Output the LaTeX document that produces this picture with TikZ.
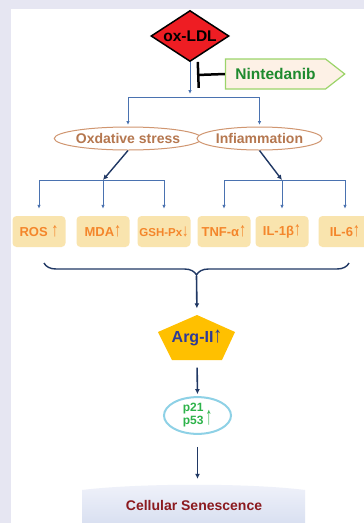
\documentclass[tikz,border=0pt]{standalone}
\usepackage{fontspec}
\setmainfont{Liberation Sans}
\usepackage{tikz}
\usetikzlibrary{arrows.meta,positioning,shapes.geometric,shapes.symbols,decorations.pathreplacing,calc}
\definecolor{PaleLavender}{HTML}{E6E6F2}
\definecolor{LdlRed}{HTML}{EE1D23}
\definecolor{NavyLine}{HTML}{203864}
\definecolor{SteelLine}{HTML}{4A72B0}
\definecolor{TanEdge}{HTML}{D09670}
\definecolor{TanText}{HTML}{B5774F}
\definecolor{SoftWheat}{HTML}{F9E4AE}
\definecolor{MarkerOrange}{HTML}{F4862B}
\definecolor{LeafGreen}{HTML}{1E8A2E}
\definecolor{LimeEdge}{HTML}{9CD46A}
\definecolor{SoftCream}{HTML}{FDF1E6}
\definecolor{ArgGold}{HTML}{FFC000}
\definecolor{ArgBlue}{HTML}{2E3A97}
\definecolor{SkyEdge}{HTML}{8ED1E6}
\definecolor{PGreen}{HTML}{2DB34A}
\definecolor{DeepMaroon}{HTML}{8B1A1F}
\definecolor{MistTop}{HTML}{F0F2FA}
\definecolor{MistBottom}{HTML}{D9E0F1}
\newcommand{\upmark}[1][1.5]{\scalebox{1.1}[#1]{\mdseries ↑}}
\newcommand{\downmark}[1][1.5]{\scalebox{1.1}[#1]{\mdseries ↓}}

\begin{document}
\begin{tikzpicture}[x=1pt, y=-1pt, every node/.style={font=\bfseries, align=center},
  readout/.style={fill=SoftWheat, rounded corners=4pt, minimum width=53pt, minimum height=31pt, inner sep=1pt, text=MarkerOrange, font=\bfseries\fontsize{13}{13}\selectfont},
  process/.style={ellipse, draw=TanEdge, line width=1pt, fill=white, minimum width=125pt, minimum height=23pt, inner sep=0pt, text=TanText, font=\bfseries\fontsize{14}{14}\selectfont},
  bus/.style={SteelLine, line width=0.8pt},
  tap/.style={SteelLine, line width=0.8pt, -{Latex[length=4pt,width=3.5pt]}},
  link/.style={NavyLine, line width=1.6pt, -{Latex[length=5pt,width=5pt]}}]
  \useasboundingbox (0,0) rectangle (364,523);
  \fill[PaleLavender] (0,0) rectangle (364,523);
  \fill[white] (11,9) rectangle (364,523);

  \node[diamond, aspect=1.54, draw=black, line width=1.5pt, fill=LdlRed, minimum width=78pt, minimum height=51pt, inner sep=0pt, font=\bfseries\fontsize{15.5}{15.5}\selectfont] (ldl) at (190,36) {ox-LDL};
  \node[signal, signal to=east, signal pointer angle=76, draw=LimeEdge, line width=1.2pt, fill=SoftCream, minimum height=30pt, inner xsep=10pt, text=LeafGreen, font=\bfseries\fontsize{15.5}{15.5}\selectfont] (nin) at (275.5,74) {Nintedanib};
  \coordinate (blk) at (197,75);
  \draw[line width=2.5pt, -{Bar[width=26pt]}] (nin.west) -- (blk);

  \coordinate (sp) at (190,97);
  \node[process] (ox) at (128,138.5) {Oxdative stress};
  \node[process] (inf) at (259.5,138.5) {Infiammation};
  \draw[tap, shorten >=3pt] (ldl.south) -- (sp);
  \draw[bus] (sp -| ox) -- (sp -| inf);
  \draw[tap, shorten >=1.5pt] (sp -| ox) -- (ox.north);
  \draw[tap, shorten >=1.5pt] (sp -| inf) -- (inf.north);

  \node[readout] (ros) at (39,231.5) {ROS \upmark};
  \node[readout] (mda) at (103,231.5) {MDA\upmark};
  \node[readout, font=\bfseries\fontsize{11.5}{11.5}\selectfont] (gsh) at (164,231.5) {GSH-Px\downmark};
  \node[readout] (tnf) at (224,231.5) {TNF-α\upmark};
  \node[readout] (il1) at (282,231.5) {IL-1β\upmark};
  \node[readout] (il6) at (345,231.5) {IL-6\upmark};
  \coordinate (lsp) at (103,180);
  \coordinate (rsp) at (282,180);
  \draw[link, line width=1.4pt] (ox.south) -- (lsp);
  \draw[link, line width=1.4pt] (inf.south) -- (rsp);
  \draw[bus] (lsp -| ros) -- (lsp -| gsh);
  \draw[bus] (rsp -| tnf) -- (rsp -| il6);
  \foreach \b in {ros,mda,gsh}
    \draw[tap, shorten >=7pt] (lsp -| \b) -- (\b.north);
  \foreach \b in {tnf,il1,il6}
    \draw[tap, shorten >=7pt] (rsp -| \b) -- (\b.north);

  \coordinate (bl) at (44,263);
  \coordinate (br) at (349,263);
  \coordinate (brc) at (196.5,276);
  \draw[NavyLine, line width=1.4pt, decorate, decoration={brace, amplitude=12pt, mirror}] (bl) -- (br);

  \fill[ArgGold] (197,315) -- (235,332) -- (222,360) -- (172,360) -- (158,332) -- cycle;
  \node[minimum width=77pt, minimum height=45pt, inner sep=0pt, text=ArgBlue, font=\bfseries\fontsize{16}{16}\selectfont] (arg) at (197,338) {Arg-II\upmark[1.4]};
  \draw[link, shorten >=7pt] (brc) -- (arg.north);

  \node[ellipse, draw=SkyEdge, line width=2pt, fill=white, minimum width=67pt, minimum height=33pt, inner sep=0pt, text=PGreen, font=\bfseries\fontsize{12}{13}\selectfont] (pq) at (197.5,415.5) {\begin{tabular}{@{}c@{}}p21\\p53\end{tabular}\,\raisebox{-1ex}{\upmark[2.1]}};
  \draw[link, shorten <=7pt, shorten >=2pt] (arg.south) -- (pq.north);

  \shade[top color=MistTop, bottom color=MistBottom] (82,523) -- (82,490) .. controls (140,483) and (250,483) .. (305,490) -- (305,523) -- cycle;
  \node[text=DeepMaroon, font=\bfseries\fontsize{14}{14}\selectfont] (sen) at (194,505.5) {Cellular Senescence};
  \draw[link, shorten <=12pt, shorten >=18pt] (pq.south) -- (pq.south |- sen.north);
\end{tikzpicture}
\end{document}
